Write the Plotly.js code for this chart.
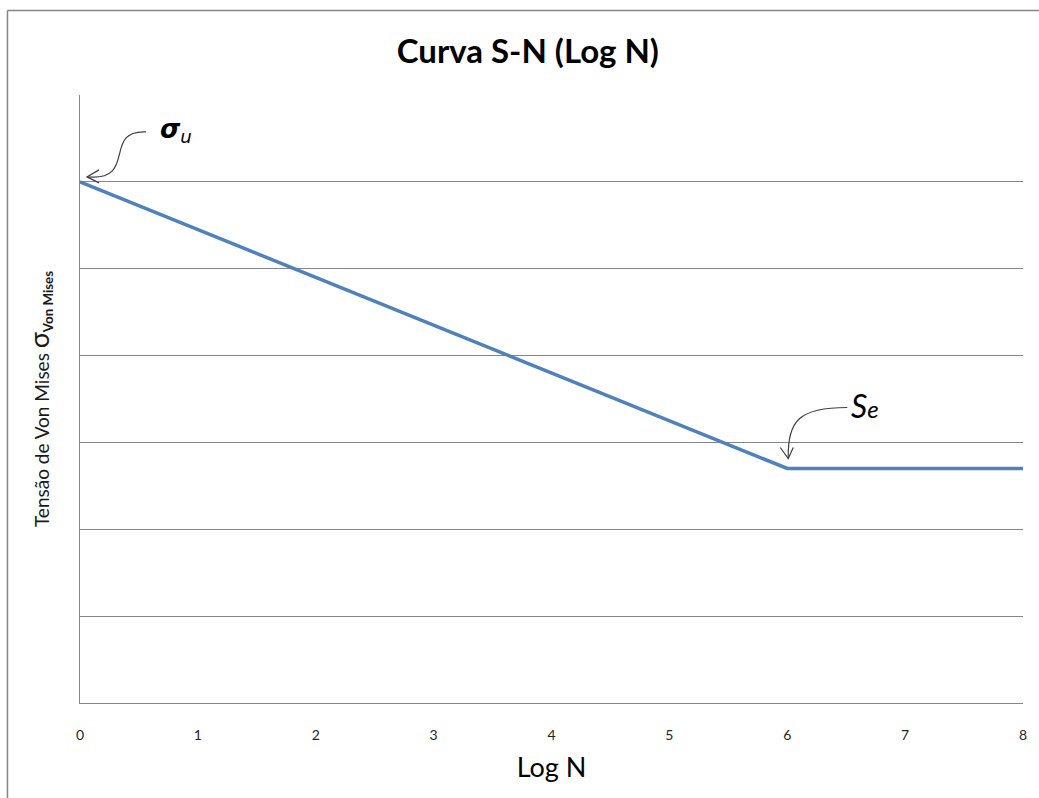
<!DOCTYPE html>
<html>
<head>
<meta charset="utf-8">
<script src="https://cdn.plot.ly/plotly-3.0.1.min.js"></script>
<style>
  html, body { margin: 0; padding: 0; background: #ffffff; }
  #chart { width: 1039px; height: 798px; }
</style>
</head>
<body>
<div id="chart"></div>
<script>
// Data
const logN = [0, 6, 8];
const tensao = [600, 270, 270];
const xTicks = [0, 1, 2, 3, 4, 5, 6, 7, 8];
const xTickLabels = ['0', '1', '2', '3', '4', '5', '6', '7', '8'];
const yGrid = [0, 100, 200, 300, 400, 500, 600, 700];

const chartTitle = 'Curva S-N (Log N)';
const xTitle = 'Log N';
const yTitle = 'Tensão de Von Mises <span style="font-size:27px">σ</span><sub><b>Von Mises</b></sub>';

const gray = '#868686';
const fontFam = 'Lato, "Open Sans", "DejaVu Sans", sans-serif';

const trace = {
  x: logN,
  y: tensao,
  type: 'scatter',
  mode: 'lines',
  line: { color: '#4F81BD', width: 3.5 },
  hoverinfo: 'skip'
};

const layout = {
  width: 1039,
  height: 798,
  margin: { l: 80, r: 16, t: 95, b: 95 },
  paper_bgcolor: '#ffffff',
  plot_bgcolor: '#ffffff',
  showlegend: false,
  font: { family: fontFam, color: '#000000' },
  title: {
    text: '<b>' + chartTitle + '</b>',
    font: { family: fontFam, size: 33, color: '#000000' },
    xref: 'container', yref: 'container',
    x: 0.508, y: 0.935, xanchor: 'center', yanchor: 'middle'
  },
  xaxis: {
    range: [0, 8],
    tickmode: 'array',
    tickvals: xTicks,
    ticktext: xTickLabels,
    ticks: '',
    ticklabelstandoff: 19,
    tickfont: { family: fontFam, size: 14, color: '#262626' },
    showgrid: false,
    zeroline: false,
    showline: true,
    linecolor: gray,
    linewidth: 1,
    fixedrange: true,
    title: {
      text: xTitle,
      font: { family: fontFam, size: 27, color: '#000000' },
      standoff: 16
    }
  },
  yaxis: {
    range: [0, 700],
    tickmode: 'array',
    tickvals: yGrid,
    showticklabels: false,
    ticks: '',
    showgrid: true,
    gridcolor: gray,
    gridwidth: 1,
    zeroline: false,
    showline: true,
    linecolor: gray,
    linewidth: 1,
    fixedrange: true,
    title: {
      text: yTitle,
      font: { family: fontFam, size: 19, color: '#1a1a1a' },
      standoff: 24
    }
  },
  shapes: [
    // outer chart-area border (top and left edges visible)
    { type: 'line', xref: 'paper', yref: 'paper', x0: -0.0769, x1: 1.03, y0: 1.139, y1: 1.139,
      line: { color: gray, width: 1.5 } },
    { type: 'line', xref: 'paper', yref: 'paper', x0: -0.0769, x1: -0.0769, y0: 1.139, y1: -0.2,
      line: { color: gray, width: 1.5 } },
    // curved arrow to sigma_u
    { type: 'path', xref: 'x', yref: 'y', xsizemode: 'pixel', ysizemode: 'pixel',
      xanchor: logN[0], yanchor: tensao[0],
      path: 'M66,50 C22,52 58,0 7,5', line: { color: '#404040', width: 1.2 } },
    { type: 'path', xref: 'x', yref: 'y', xsizemode: 'pixel', ysizemode: 'pixel',
      xanchor: logN[0], yanchor: tensao[0],
      path: 'M19,12 L7,5 L19,-1', line: { color: '#404040', width: 1.2 } },
    // curved arrow to S_e
    { type: 'path', xref: 'x', yref: 'y', xsizemode: 'pixel', ysizemode: 'pixel',
      xanchor: logN[1], yanchor: tensao[1],
      path: 'M60,61 C12,61 0,48 1,10', line: { color: '#404040', width: 1.2 } },
    { type: 'path', xref: 'x', yref: 'y', xsizemode: 'pixel', ysizemode: 'pixel',
      xanchor: logN[1], yanchor: tensao[1],
      path: 'M-7,21 L1,10 L6,21', line: { color: '#404040', width: 1.2 } }
  ],
  annotations: [
    { x: logN[0], y: tensao[0], xref: 'x', yref: 'y', showarrow: false,
      xanchor: 'left', yanchor: 'middle', xshift: 78, yshift: 51,
      text: '<b><i>σ</i></b><sub><i>u</i></sub>',
      font: { family: '"DejaVu Sans", sans-serif', size: 26, color: '#000000' } },
    { x: logN[1], y: tensao[1], xref: 'x', yref: 'y', showarrow: false,
      xanchor: 'left', yanchor: 'middle', xshift: 62, yshift: 63,
      text: '<i>S<span style="font-size:24px">e</span></i>',
      font: { family: fontFam, size: 32, color: '#000000' } }
  ]
};

Plotly.newPlot('chart', [trace], layout, { displayModeBar: false, staticPlot: true });
</script>
</body>
</html>
